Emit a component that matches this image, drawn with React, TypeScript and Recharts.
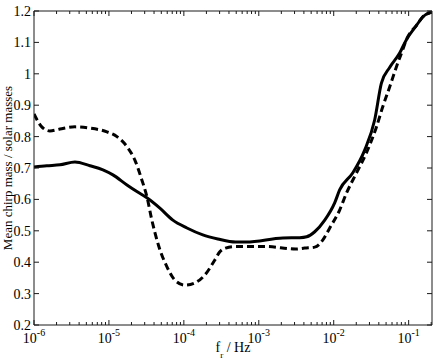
import React from 'react';
import { LineChart, Line, XAxis, YAxis } from 'recharts';

// Frequencies (Hz) and mean chirp masses
const solidF = [1e-6, 1.48e-6, 2.22e-6, 3.52e-6, 5.58e-6, 8.32e-6, 1.13e-5, 1.74e-5, 2.36e-5, 3.21e-5, 4.79e-5, 7.13e-5, 1.1e-4, 1.79e-4, 2.84e-4, 4.9e-4, 6.8e-4, 2.1e-3, 3.52e-3, 4.36e-3, 5.58e-3, 7.59e-3, 1.03e-2, 1.2e-2, 1.79e-2, 2.59e-2, 3.52e-2, 4.33e-2, 5.58e-2, 7.59e-2, 9.3e-2, 0.128, 0.154, 0.203];
const solidM = [0.703, 0.707, 0.71, 0.719, 0.707, 0.694, 0.678, 0.646, 0.625, 0.605, 0.572, 0.534, 0.509, 0.487, 0.474, 0.464, 0.464, 0.477, 0.478, 0.481, 0.497, 0.534, 0.589, 0.63, 0.684, 0.757, 0.853, 0.97, 1.02, 1.066, 1.108, 1.155, 1.181, 1.197];

const dashedF = [1e-6, 1.27e-6, 1.63e-6, 2.22e-6, 3.52e-6, 5.58e-6, 9.4e-6, 1.28e-5, 1.74e-5, 2.22e-5, 2.75e-5, 3.21e-5, 3.74e-5, 4.64e-5, 5.93e-5, 7.59e-5, 1.03e-4, 1.4e-4, 1.9e-4, 2.59e-4, 3.02e-4, 3.6e-4, 4.9e-4, 1.23e-3, 3.1e-3, 4.1e-3, 5.58e-3, 7.13e-3, 8.85e-3, 1.2e-2, 1.48e-2, 2.01e-2, 2.73e-2, 3.71e-2, 4.5e-2, 5.58e-2, 6.86e-2, 8.32e-2, 9.3e-2, 0.128, 0.154, 0.203];
const dashedM = [0.872, 0.831, 0.818, 0.824, 0.831, 0.827, 0.815, 0.8, 0.768, 0.725, 0.662, 0.609, 0.534, 0.45, 0.386, 0.343, 0.327, 0.334, 0.359, 0.407, 0.433, 0.445, 0.45, 0.45, 0.442, 0.445, 0.448, 0.47, 0.509, 0.566, 0.62, 0.684, 0.748, 0.83, 0.894, 0.958, 1.022, 1.076, 1.108, 1.155, 1.181, 1.197];

const yTicks = [0.2, 0.3, 0.4, 0.5, 0.6, 0.7, 0.8, 0.9, 1, 1.1, 1.2];
const yTickLabels = ['0.2', '0.3', '0.4', '0.5', '0.6', '0.7', '0.8', '0.9', '1', '1.1', '1.2'];
const xDecades = [-6, -5, -4, -3, -2, -1];
const xMantissas = [1, 2, 3, 4, 5, 6, 7, 8, 9];
const xDomain = [1e-6, 0.205];
const yDomain = [0.2, 1.2];

const xTicks = xDecades
  .flatMap((d) => xMantissas.map((m) => m * Math.pow(10, d)))
  .filter((v) => v <= xDomain[1] * 1.0001);

const solidData = solidF.map((f, i) => ({ f, m: solidM[i] }));
const dashedData = dashedF.map((f, i) => ({ f, m: dashedM[i] }));

const FONT = '"Liberation Serif", "Times New Roman", serif';
const AX = '#1a1a1a';

function tickInfo(v: number) {
  const e = Math.floor(Math.log10(v) + 1e-9);
  const mant = v / Math.pow(10, e);
  return { e, major: Math.abs(mant - 1) < 1e-6 };
}

const BottomTick = (props: any) => {
  const { x, y, payload } = props;
  const { e, major } = tickInfo(payload.value);
  return (
    <g>
      <line x1={x} x2={x} y1={y} y2={y - (major ? 5 : 3)} stroke={AX} strokeWidth={1} />
      {major && (
        <text x={x} y={y + 18} textAnchor="middle" fontFamily={FONT} fontSize={14} fill="#000">
          10<tspan dy={-7} fontSize={10}>{String(e)}</tspan>
        </text>
      )}
    </g>
  );
};

const TopTick = (props: any) => {
  const { x, y, payload } = props;
  const { major } = tickInfo(payload.value);
  return <line x1={x} x2={x} y1={y} y2={y + (major ? 5 : 3)} stroke={AX} strokeWidth={1} />;
};

const LeftTick = (props: any) => {
  const { x, y, payload, index } = props;
  return (
    <g>
      <line x1={x} x2={x + 5} y1={y} y2={y} stroke={AX} strokeWidth={1} />
      <text x={x - 3} y={y} dy="0.35em" textAnchor="end" fontFamily={FONT} fontSize={14} fill="#000">
        {yTickLabels[index] ?? String(payload.value)}
      </text>
    </g>
  );
};

const RightTick = (props: any) => {
  const { x, y } = props;
  return <line x1={x} x2={x - 5} y1={y} y2={y} stroke={AX} strokeWidth={1} />;
};

const XLabel = (props: any) => {
  const vb = props.viewBox || {};
  const cx = vb.x + vb.width / 2;
  const by = vb.y + 27;
  return (
    <text x={cx} y={by} textAnchor="middle" fontFamily={FONT} fontSize={14} fill="#000">
      f<tspan dy={6} fontSize={9}>r</tspan>
      <tspan dy={-6}> / Hz</tspan>
    </text>
  );
};

const YLabel = (props: any) => {
  const vb = props.viewBox || {};
  const cx = 12;
  const cy = vb.y + vb.height / 2;
  return (
    <text
      x={cx}
      y={cy}
      transform={`rotate(-90 ${cx} ${cy})`}
      textAnchor="middle"
      fontFamily={FONT}
      fontSize={13}
      fill="#000"
    >
      Mean chirp mass / solar masses
    </text>
  );
};

export default function App() {
  return (
    <div style={{ position: 'absolute', left: 0, top: 0, width: 436, height: 361, background: '#fff' }}>
      <LineChart width={436} height={361} margin={{ top: 0, right: 0, bottom: 0, left: 0 }}>
        <XAxis
          dataKey="f"
          type="number"
          scale="log"
          domain={xDomain}
          allowDataOverflow
          ticks={xTicks}
          interval={0}
          height={36}
          tickSize={0}
          tickMargin={0}
          tick={<BottomTick />}
          axisLine={{ stroke: AX, strokeWidth: 1 }}
          label={<XLabel />}
        />
        <XAxis
          xAxisId="top"
          orientation="top"
          dataKey="f"
          type="number"
          scale="log"
          domain={xDomain}
          allowDataOverflow
          ticks={xTicks}
          interval={0}
          height={11}
          tickSize={0}
          tickMargin={0}
          tick={<TopTick />}
          axisLine={{ stroke: AX, strokeWidth: 1 }}
        />
        <YAxis
          type="number"
          domain={yDomain}
          allowDataOverflow
          ticks={yTicks}
          interval={0}
          width={34}
          tickSize={0}
          tickMargin={0}
          tick={<LeftTick />}
          axisLine={{ stroke: AX, strokeWidth: 1 }}
          label={<YLabel />}
        />
        <YAxis
          yAxisId="right"
          orientation="right"
          type="number"
          domain={yDomain}
          allowDataOverflow
          ticks={yTicks}
          interval={0}
          width={4}
          tickSize={0}
          tickMargin={0}
          tick={<RightTick />}
          axisLine={{ stroke: AX, strokeWidth: 1 }}
        />
        <Line
          data={dashedData}
          dataKey="m"
          type="monotone"
          stroke="#000"
          strokeWidth={3}
          strokeDasharray="7 4"
          dot={false}
          activeDot={false}
          isAnimationActive={false}
        />
        <Line
          data={solidData}
          dataKey="m"
          type="monotone"
          stroke="#000"
          strokeWidth={3}
          dot={false}
          activeDot={false}
          isAnimationActive={false}
        />
      </LineChart>
    </div>
  );
}
